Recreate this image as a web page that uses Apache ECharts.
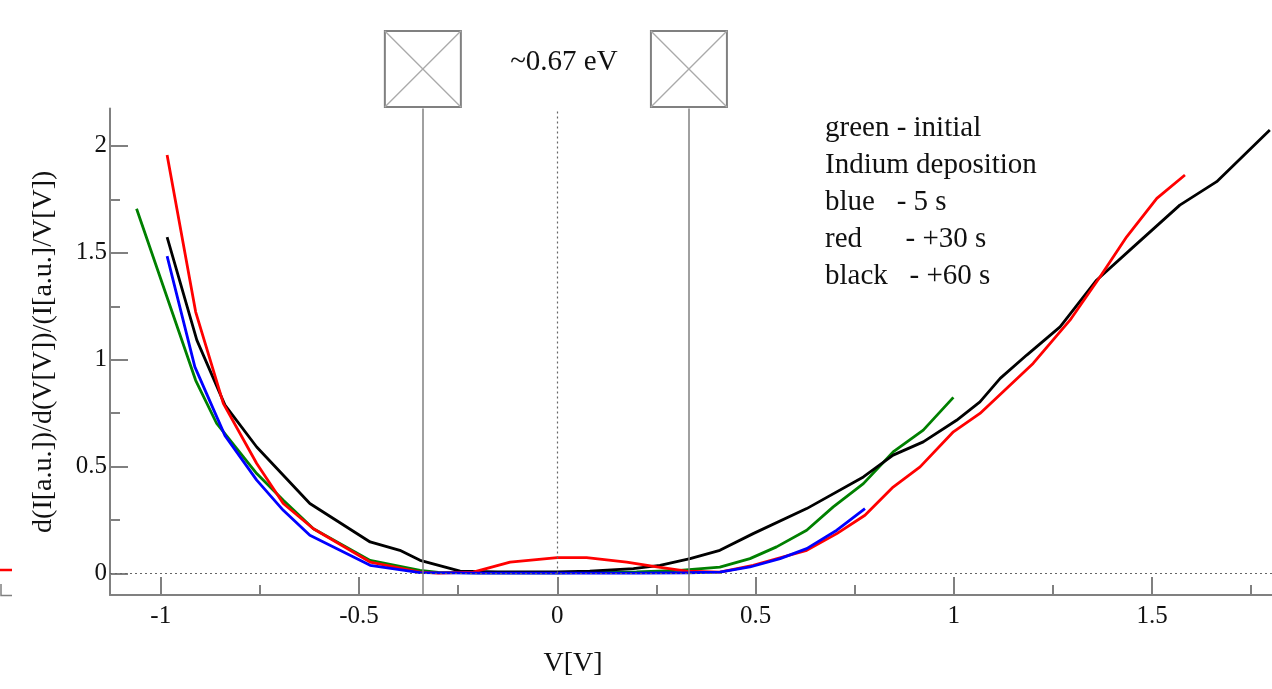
<!DOCTYPE html>
<html>
<head>
<meta charset="utf-8">
<title>normalized conductance</title>
<script src="https://cdn.jsdelivr.net/npm/echarts@6/dist/echarts.min.js"></script>
<style>
html, body { margin: 0; padding: 0; background: #fff; }
#chart { width: 1272px; height: 689px; }
</style>
</head>
<body>
<div id="chart"></div>
<script>
// curves, [V, (dI/dV)/(I/V)]
const greenData = [[-1.061,1.706],[-0.912,0.904],[-0.859,0.702],[-0.758,0.468],[-0.691,0.343],[-0.615,0.21],[-0.472,0.062],[-0.346,0.015],[-0.3,0.006],[-0.2,0.004],[-0.1,0.004],[0,0.004],[0.1,0.006],[0.2,0.008],[0.309,0.015],[0.41,0.03],[0.486,0.07],[0.553,0.125],[0.629,0.203],[0.696,0.312],[0.772,0.421],[0.847,0.569],[0.923,0.671],[0.999,0.824]]
const blueData = [[-0.984,1.485],[-0.914,0.967],[-0.838,0.645],[-0.758,0.437],[-0.691,0.296],[-0.624,0.179],[-0.472,0.039],[-0.346,0.005],[-0.2,0.002],[0,0.002],[0.2,0.002],[0.33,0.004],[0.41,0.007],[0.486,0.031],[0.562,0.07],[0.629,0.117],[0.705,0.203],[0.776,0.304]]
const redData = [[-0.984,1.957],[-0.912,1.224],[-0.842,0.795],[-0.758,0.515],[-0.691,0.328],[-0.615,0.21],[-0.472,0.054],[-0.346,0.007],[-0.3,0.002],[-0.212,0.007],[-0.119,0.054],[0,0.075],[0.074,0.075],[0.175,0.054],[0.251,0.031],[0.326,0.012],[0.41,0.007],[0.494,0.039],[0.629,0.109],[0.705,0.187],[0.776,0.273],[0.847,0.405],[0.915,0.499],[0.999,0.663],[1.066,0.749],[1.2,0.983],[1.293,1.185],[1.369,1.388],[1.436,1.575],[1.512,1.755],[1.583,1.864]]
const blackData = [[-0.984,1.574],[-0.909,1.092],[-0.838,0.788],[-0.758,0.592],[-0.624,0.328],[-0.472,0.148],[-0.397,0.109],[-0.346,0.062],[-0.245,0.012],[-0.15,0.008],[0,0.008],[0.082,0.012],[0.192,0.023],[0.259,0.039],[0.335,0.07],[0.41,0.109],[0.494,0.187],[0.629,0.304],[0.772,0.452],[0.847,0.554],[0.923,0.616],[1.007,0.717],[1.066,0.803],[1.117,0.913],[1.184,1.022],[1.268,1.154],[1.36,1.372],[1.453,1.528],[1.57,1.723],[1.663,1.833],[1.797,2.074]]

const xMajor = [-1, -0.5, 0, 0.5, 1, 1.5]
const xMinor = [-0.75, -0.25, 0.25, 0.75, 1.25, 1.75]
const yMajor = [0, 0.5, 1, 1.5, 2]
const yMinor = [0.25, 0.75, 1.25, 1.75]
const gapEdges = [-0.339, 0.332]
const legendLines = ['green - initial', 'Indium deposition', 'blue   - 5 s', 'red      - +30 s', 'black   - +60 s']

const X_MIN = -1.128, X_MAX = 1.8025
const Y_MIN = -0.1, Y_MAX = 2.175
const FONT = 'Liberation Serif'
const AXIS = '#808080'

const chart = echarts.init(document.getElementById('chart'))

function line(name, data, color){
  return {
    name: name,
    type: 'line',
    data: data,
    symbol: 'none',
    clip: true,
    lineStyle: { color: color, width: 2.8 },
    z: 3
  }
}

const tickStyle = { color: AXIS, width: 2 }

const option = {
  animation: false,
  grid: { left: 110, right: 0, top: 108.5, bottom: 94 },
  xAxis: [
    {
      type: 'value', min: X_MIN, max: X_MAX,
      axisLine: { onZero: false, lineStyle: { color: AXIS, width: 2 } },
      axisTick: { inside: true, length: 18, customValues: xMajor, lineStyle: tickStyle },
      axisLabel: { customValues: xMajor, margin: 9, fontFamily: FONT, fontSize: 25, color: '#111' },
      splitLine: { show: false }
    },
    {
      type: 'value', min: X_MIN, max: X_MAX, position: 'bottom',
      axisLine: { show: false, onZero: false },
      axisTick: { inside: true, length: 10, customValues: xMinor, lineStyle: tickStyle },
      axisLabel: { show: false },
      splitLine: { show: false }
    }
  ],
  yAxis: [
    {
      type: 'value', min: Y_MIN, max: Y_MAX,
      name: 'd(I[a.u.])/d(V[V])/(I[a.u.]/V[V])',
      nameLocation: 'middle', nameGap: 52,
      nameTextStyle: { fontFamily: FONT, fontSize: 28, color: '#111' },
      axisLine: { onZero: false, lineStyle: { color: AXIS, width: 2 } },
      axisTick: { inside: true, length: 18, customValues: yMajor, lineStyle: tickStyle },
      axisLabel: { customValues: yMajor, margin: 3, fontFamily: FONT, fontSize: 25, color: '#111' },
      splitLine: { show: false }
    },
    {
      type: 'value', min: Y_MIN, max: Y_MAX, position: 'left',
      axisLine: { show: false, onZero: false },
      axisTick: { inside: true, length: 10, customValues: yMinor, lineStyle: tickStyle },
      axisLabel: { show: false },
      splitLine: { show: false }
    }
  ],
  series: [
    Object.assign(line('green', greenData, '#008000'), {
      markLine: {
        silent: true,
        symbol: 'none',
        label: { show: false },
        data: [
          [{ coord: [X_MIN, 0], lineStyle: { type: [2, 3], color: '#666', width: 1.2 } }, { coord: [X_MAX, 0] }],
          [{ coord: [0, 0], lineStyle: { type: [2, 3], color: '#666', width: 1.2 } }, { coord: [0, Y_MAX] }],
          [{ coord: [gapEdges[0], Y_MIN], lineStyle: { type: 'solid', color: AXIS, width: 1.5 } }, { coord: [gapEdges[0], Y_MAX] }],
          [{ coord: [gapEdges[1], Y_MIN], lineStyle: { type: 'solid', color: AXIS, width: 1.5 } }, { coord: [gapEdges[1], Y_MAX] }]
        ]
      }
    }),
    line('black', blackData, '#000000'),
    line('red', redData, '#ff0000'),
    line('blue', blueData, '#0000ff')
  ]
}
chart.setOption(option)

// boxes over the gap edges, text labels
const graphics = []
gapEdges.forEach(v => {
  const px = chart.convertToPixel({ xAxisIndex: 0 }, v)
  const x0 = px - 38, y0 = 31, s = 76
  graphics.push({ type: 'rect', shape: { x: x0, y: y0, width: s, height: s }, style: { fill: '#fff', stroke: AXIS, lineWidth: 2 } })
  graphics.push({ type: 'line', shape: { x1: x0, y1: y0, x2: x0 + s, y2: y0 + s }, style: { stroke: '#aaa', lineWidth: 1.3 } })
  graphics.push({ type: 'line', shape: { x1: x0 + s, y1: y0, x2: x0, y2: y0 + s }, style: { stroke: '#aaa', lineWidth: 1.3 } })
})
const midPx = (chart.convertToPixel({ xAxisIndex: 0 }, gapEdges[0]) + chart.convertToPixel({ xAxisIndex: 0 }, gapEdges[1])) / 2
graphics.push({ type: 'text', x: midPx + 8, y: 62, style: { text: '~0.67 eV', font: '29px "Liberation Serif"', fill: '#111', align: 'center', verticalAlign: 'middle' } })
legendLines.forEach((t, i) => {
  graphics.push({ type: 'text', x: 825, y: 128 + i * 37, style: { text: t, font: '29px "Liberation Serif"', fill: '#111', align: 'left', verticalAlign: 'middle' } })
})
graphics.push({ type: 'text', x: 573, y: 664, style: { text: 'V[V]', font: '28px "Liberation Serif"', fill: '#111', align: 'center', verticalAlign: 'middle' } })
// bits of a neighbouring plot cut off at the left edge
graphics.push({ type: 'line', shape: { x1: 0, y1: 570, x2: 12, y2: 570 }, style: { stroke: '#ff0000', lineWidth: 2.5 } })
graphics.push({ type: 'polyline', shape: { points: [[1, 584], [1, 595.5], [12, 595.5]] }, style: { stroke: AXIS, lineWidth: 1.5, fill: 'none' } })
chart.setOption({ graphic: graphics })
</script>
</body>
</html>
